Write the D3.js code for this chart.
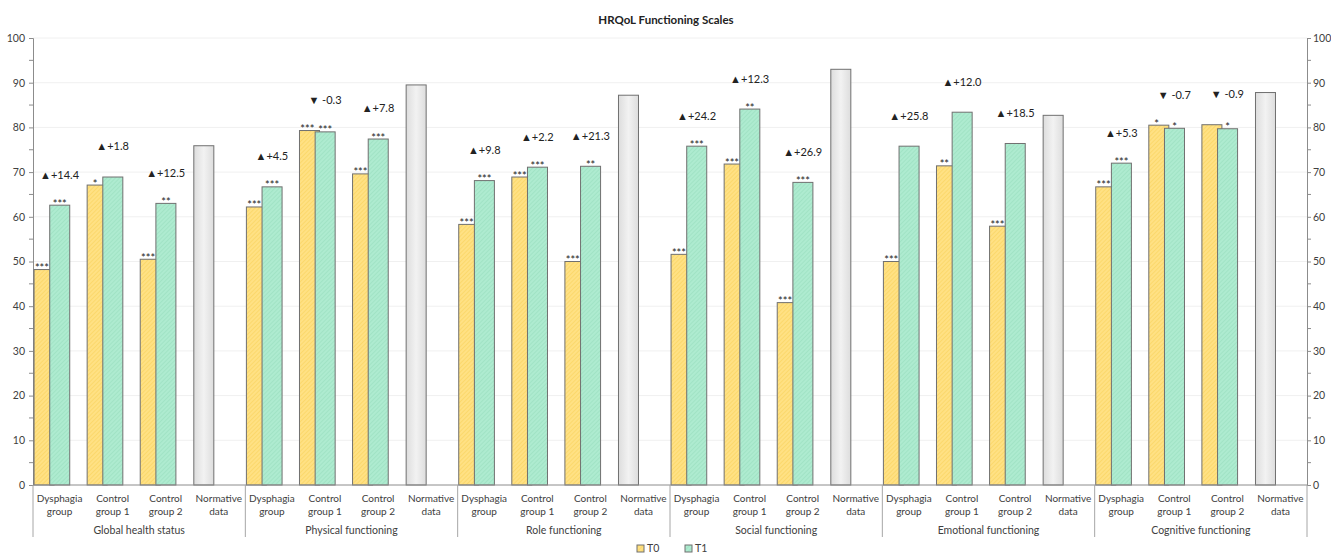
<!DOCTYPE html>
<html>
<head>
<meta charset="utf-8">
<script src="https://cdn.jsdelivr.net/npm/d3@7"></script>
<style>
  html, body { margin: 0; padding: 0; background: #fff; }
  svg { display: block; font-family: Lato, "Noto Sans", sans-serif; }
</style>
</head>
<body>
<svg id="chart" width="1331" height="554"></svg>
<script>
// HRQoL functioning scales: T0 vs T1 for three groups, plus normative reference
const scales = ["Global health status", "Physical functioning", "Role functioning",
                "Social functioning", "Emotional functioning", "Cognitive functioning"];
const groups = [["Dysphagia", "group"], ["Control", "group 1"], ["Control", "group 2"], ["Normative", "data"]];

const t0Values = [
  [48.2, 67.1, 50.5],
  [62.2, 79.3, 69.6],
  [58.3, 68.9, 50.0],
  [51.6, 71.8, 40.8],
  [50.0, 71.4, 57.9],
  [66.7, 80.5, 80.6]
];
const t1Values = [
  [62.6, 68.9, 63.0],
  [66.7, 79.0, 77.4],
  [68.1, 71.1, 71.3],
  [75.8, 84.1, 67.7],
  [75.8, 83.4, 76.4],
  [72.0, 79.8, 79.7]
];
const normativeValues = [75.9, 89.5, 87.2, 93.0, 82.7, 87.8];

// significance markers versus normative data
const t0Stars = [
  ["***", "*", "***"],
  ["***", "***", "***"],
  ["***", "***", "***"],
  ["***", "***", "***"],
  ["***", "**", "***"],
  ["***", "*", ""]
];
const t1Stars = [
  ["***", "", "**"],
  ["***", "***", "***"],
  ["***", "***", "**"],
  ["***", "**", "***"],
  ["", "", ""],
  ["***", "*", "*"]
];

const yTicks = [0, 10, 20, 30, 40, 50, 60, 70, 80, 90, 100];

const svg = d3.select("#chart");
const plotL = 33, plotR = 1307, plotT = 38, plotB = 485;

const cats = [];
scales.forEach((s, si) => groups.forEach((g, gi) => cats.push({ si, gi, key: si + "-" + gi })));

const x = d3.scaleBand().domain(cats.map(d => d.key)).range([plotL, plotR]).padding(0);
const y = d3.scaleLinear().domain([0, 100]).range([plotB, plotT]);
const bw = x.bandwidth();
const barW = bw * 0.377;
const off0 = bw * 0.02;
const off1 = bw * 0.315;

// fill patterns
const defs = svg.append("defs");
function hatch(id, base, line) {
  const p = defs.append("pattern").attr("id", id).attr("patternUnits", "userSpaceOnUse")
    .attr("width", 3).attr("height", 3).attr("patternTransform", "rotate(45)");
  p.append("rect").attr("width", 3).attr("height", 3).attr("fill", base);
  p.append("line").attr("x1", 0).attr("y1", 0).attr("x2", 0).attr("y2", 3)
    .attr("stroke", line).attr("stroke-width", 1);
}
hatch("fillT0", "#FFE184", "#F7CF55");
hatch("fillT1", "#AEEBD0", "#94DCBB");
const grad = defs.append("linearGradient").attr("id", "fillNorm").attr("x1", 0).attr("x2", 1).attr("y1", 0).attr("y2", 0);
grad.append("stop").attr("offset", "0%").attr("stop-color", "#DDDDDD");
grad.append("stop").attr("offset", "50%").attr("stop-color", "#F2F2F2");
grad.append("stop").attr("offset", "100%").attr("stop-color", "#DDDDDD");

// gridlines
svg.append("g").selectAll("line").data(yTicks.filter(v => v > 0)).join("line")
  .attr("x1", plotL).attr("x2", plotR).attr("y1", d => y(d)).attr("y2", d => y(d))
  .attr("stroke", "#F0F0F0").attr("stroke-width", 1);

// axes
const fmtAxis = (a, pad) => a.tickValues(yTicks).tickSizeOuter(0).tickSize(4).tickPadding(pad);
const yl = svg.append("g").attr("transform", `translate(${plotL},0)`).call(fmtAxis(d3.axisLeft(y), 4));
const yr = svg.append("g").attr("transform", `translate(${plotR},0)`).call(fmtAxis(d3.axisRight(y), 2));
[yl, yr].forEach(a => {
  a.select(".domain").attr("stroke", "#8C8C8C");
  a.selectAll(".tick line").attr("stroke", "#8C8C8C");
  a.selectAll(".tick text").attr("fill", "#404040").style("font-size", "10.5px").style("font-family", "Lato, sans-serif");
});
// minor ticks
const minor = d3.range(5, 100, 10);
[[plotL, -4], [plotR, 4]].forEach(([px, dx]) => {
  svg.append("g").selectAll("line").data(minor).join("line")
    .attr("x1", px).attr("x2", px + dx).attr("y1", d => y(d)).attr("y2", d => y(d))
    .attr("stroke", "#8C8C8C");
});

// bars
const barsG = svg.append("g");
cats.forEach(c => {
  const x0 = x(c.key);
  if (c.gi < 3) {
    const v0 = t0Values[c.si][c.gi], v1 = t1Values[c.si][c.gi];
    barsG.append("rect").attr("x", x0 + off0).attr("y", y(v0)).attr("width", barW).attr("height", y(0) - y(v0))
      .attr("fill", "url(#fillT0)").attr("stroke", "#707070").attr("stroke-width", 1);
    barsG.append("rect").attr("x", x0 + off1).attr("y", y(v1)).attr("width", barW).attr("height", y(0) - y(v1))
      .attr("fill", "url(#fillT1)").attr("stroke", "#707070").attr("stroke-width", 1);
    // stars
    const s0 = t0Stars[c.si][c.gi], s1 = t1Stars[c.si][c.gi];
    if (s0) barsG.append("text").attr("x", x0 + (off0 + off1) / 2).attr("y", y(v0) + 2.5)
      .attr("text-anchor", "middle").attr("fill", "#222").style("font-size", "11px").text(s0);
    if (s1) barsG.append("text").attr("x", x0 + off1 + barW / 2).attr("y", y(v1) + 2.5)
      .attr("text-anchor", "middle").attr("fill", "#222").style("font-size", "11px").text(s1);
    // change T0 -> T1
    const diff = v1 - v0;
    const label = diff >= 0 ? "\u25B2+" + diff.toFixed(1) : "\u25BC " + diff.toFixed(1);
    barsG.append("text").attr("x", x0 + bw / 2).attr("y", y(Math.max(v0, v1) + 6.8))
      .attr("dy", "0.35em").attr("text-anchor", "middle").attr("fill", "#222")
      .style("font-size", "11px").text(label);
  } else {
    const v = normativeValues[c.si];
    barsG.append("rect").attr("x", x0 + off0 + 0.5).attr("y", y(v)).attr("width", barW).attr("height", y(0) - y(v))
      .attr("fill", "url(#fillNorm)").attr("stroke", "#707070").attr("stroke-width", 1);
  }
});

// baseline
svg.append("line").attr("x1", plotL).attr("x2", plotR).attr("y1", plotB).attr("y2", plotB)
  .attr("stroke", "#8C8C8C");

// category labels
const lab = svg.append("g").attr("fill", "#404040").style("font-size", "10px");
cats.forEach(c => {
  const cx = x(c.key) + bw / 2;
  const t = lab.append("text").attr("x", cx).attr("text-anchor", "middle");
  t.append("tspan").attr("x", cx).attr("y", 502).text(groups[c.gi][0]);
  t.append("tspan").attr("x", cx).attr("y", 515).text(groups[c.gi][1]);
});
scales.forEach((s, si) => {
  const x0 = x(si + "-0"), x1 = x(si + "-3") + bw;
  lab.append("text").attr("x", (x0 + x1) / 2).attr("y", 534).attr("text-anchor", "middle")
    .style("font-size", "10.5px").text(s);
});
// group separators
const seps = scales.map((s, si) => x(si + "-0")).concat([plotR]);
svg.append("g").selectAll("line").data(seps).join("line")
  .attr("x1", d => d).attr("x2", d => d).attr("y1", plotB).attr("y2", 537)
  .attr("stroke", "#A6A6A6");

// title
svg.append("text").attr("x", 666).attr("y", 24).attr("text-anchor", "middle")
  .attr("fill", "#222").style("font-size", "11.5px").style("font-weight", "bold")
  .text("HRQoL Functioning Scales");

// legend
const legend = svg.append("g").style("font-size", "10.5px").attr("fill", "#404040");
[["T0", "url(#fillT0)", 637], ["T1", "url(#fillT1)", 685]].forEach(([name, fill, lx]) => {
  legend.append("rect").attr("x", lx).attr("y", 545).attr("width", 7).attr("height", 7)
    .attr("fill", fill).attr("stroke", "#707070");
  legend.append("text").attr("x", lx + 10).attr("y", 552).text(name);
});
</script>
</body>
</html>
